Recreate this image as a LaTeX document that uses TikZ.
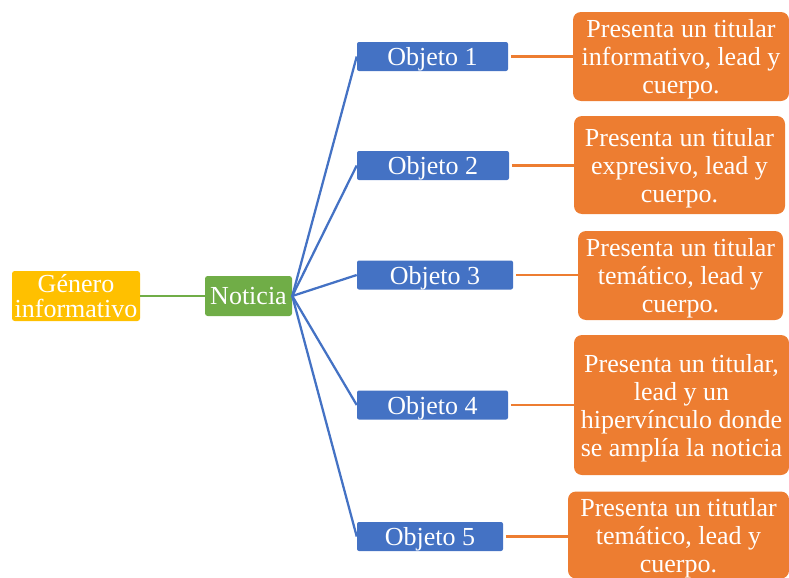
\documentclass[tikz,border=0pt]{standalone}
\usepackage{fontspec}
\setmainfont{Liberation Serif}
\usepackage{xcolor}
\usepackage{tikz}
\usetikzlibrary{positioning}
\definecolor{amarillo}{HTML}{FFC000}
\definecolor{verde}{HTML}{70AD47}
\definecolor{azul}{HTML}{4472C4}
\definecolor{naranja}{HTML}{ED7D31}
\tikzset{
	caja/.style={text=white,align=center,inner sep=1pt,font=\fontsize{19.5}{21}\selectfont},
	raiz/.style={caja,fill=amarillo,rounded corners=2pt,minimum width=96pt,minimum height=37.5pt},
	tema/.style={caja,fill=verde,rounded corners=2pt,minimum width=65.25pt,minimum height=30pt},
	objeto/.style={caja,fill=azul,rounded corners=1.5pt,minimum height=21.75pt,text depth=0pt},
	detalle/.style={caja,fill=naranja,rounded corners=6pt,text depth=0pt},
	rama/.style={azul,line width=1.7pt},
	enlace/.style={naranja,line width=1.7pt}
}

\begin{document}
\begin{tikzpicture}[x=0.75pt,y=-0.75pt]
	\useasboundingbox (0,0) rectangle (789,578);
	% nodos principales
	\node[raiz] (genero) at (76,296) {G\'enero\\[-2pt]informativo};
	\node[tema] (noticia) at (248.5,296) {Noticia};
	\draw[verde,line width=1.7pt] (genero) -- (noticia);
	% objetos
	\node[objeto,minimum width=113.25pt] (obj1) at (432.5,56.5) {Objeto 1};
	\node[objeto,minimum width=114pt] (obj2) at (433,165.5) {Objeto 2};
	\node[objeto,minimum width=117pt] (obj3) at (435,275) {Objeto 3};
	\node[objeto,minimum width=113.25pt] (obj4) at (432.5,405) {Objeto 4};
	\node[objeto,minimum width=109.5pt] (obj5) at (430,536.5) {Objeto 5};
	% descripciones
	\node[detalle,minimum width=162pt,minimum height=66.75pt] (desc1) at (681,56.5)
		{Presenta un titular\\informativo, lead y\\cuerpo.};
	\node[detalle,minimum width=158.25pt,minimum height=73.5pt] (desc2) at (679.5,165)
		{Presenta un titular\\expresivo, lead y\\cuerpo.};
	\node[detalle,minimum width=153.75pt,minimum height=66.75pt] (desc3) at (680.5,275.5)
		{Presenta un titular\\tem\'atico, lead y\\cuerpo.};
	\node[detalle,minimum width=161.25pt,minimum height=105pt,text depth=-4.3pt] (desc4) at (681.5,405)
		{Presenta un titular,\\lead y un\\hiperv\'inculo donde\\se ampl\'ia la noticia};
	\node[detalle,minimum width=165.75pt,minimum height=65.25pt] (desc5) at (678.5,535)
		{Presenta un titutlar\\tem\'atico, lead y\\cuerpo.};
	% conectores
	\draw[rama] (noticia.east) -- (obj1.west);
	\draw[rama] (noticia.east) -- (obj2.west);
	\draw[rama] (noticia.east) -- (obj3.west);
	\draw[rama] (noticia.east) -- (obj4.west);
	\draw[rama] (noticia.east) -- (obj5.west);
	\draw[enlace] ([xshift=2pt]obj1.east) -- (desc1.west |- obj1.east);
	\draw[enlace] ([xshift=2pt]obj2.east) -- (desc2.west |- obj2.east);
	\draw[enlace] ([xshift=2pt]obj3.east) -- (desc3.west |- obj3.east);
	\draw[enlace] ([xshift=2pt]obj4.east) -- (desc4.west |- obj4.east);
	\draw[enlace] ([xshift=2pt]obj5.east) -- (desc5.west |- obj5.east);
\end{tikzpicture}
\end{document}
